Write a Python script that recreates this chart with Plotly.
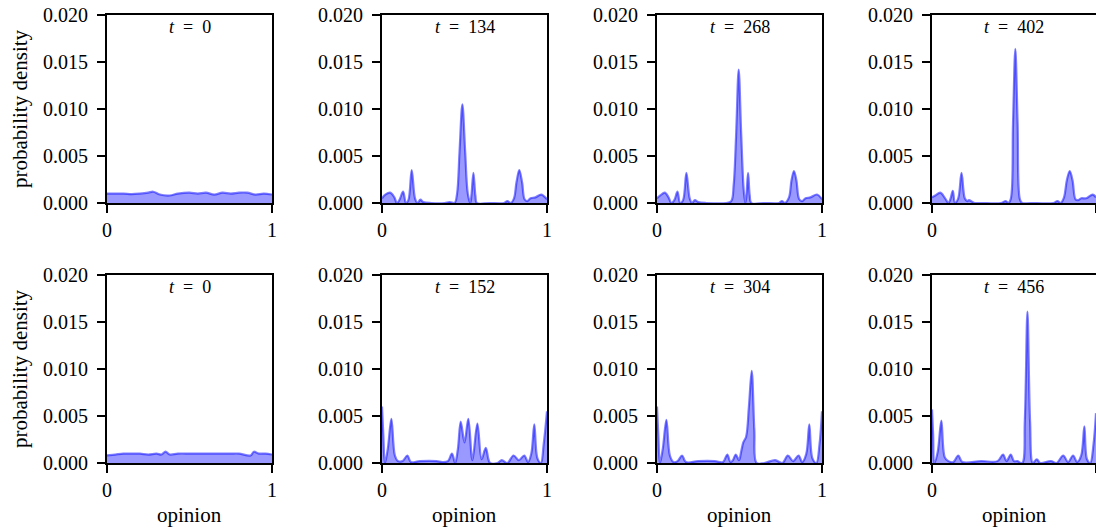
import plotly.graph_objects as go
from plotly.subplots import make_subplots

# Opinion density snapshots: two runs (rows), four time steps each (columns)
TIMES_TOP = [0, 134, 268, 402]
TIMES_BOTTOM = [0, 152, 304, 456]

Y_TICKS = [0.0, 0.005, 0.010, 0.015, 0.020]
Y_TICK_TEXT = ["0.000", "0.005", "0.010", "0.015", "0.020"]
X_TICKS = [0, 1]
X_TICK_TEXT = ["0", "1"]

# ---- run 1 ----
x_top_0 = [0, 0.05, 0.1, 0.15, 0.2, 0.25, 0.28, 0.32, 0.38, 0.43, 0.5, 0.55, 0.6,
           0.65, 0.7, 0.75, 0.8, 0.85, 0.9, 0.95, 1.0]
y_top_0 = [0.0010, 0.0010, 0.0010, 0.00095, 0.0010, 0.0011, 0.0012, 0.0009, 0.0008,
           0.0010, 0.0011, 0.0010, 0.0011, 0.0009, 0.0011, 0.0010, 0.0011, 0.0011,
           0.0009, 0.0010, 0.0009]

x_top_134 = [0, 0.02, 0.05, 0.075, 0.09, 0.105, 0.128, 0.145, 0.16, 0.18, 0.2, 0.215,
             0.233, 0.25, 0.3, 0.38, 0.41, 0.44, 0.455, 0.47, 0.487, 0.504, 0.52,
             0.535, 0.542, 0.554, 0.566, 0.575, 0.65, 0.74, 0.76, 0.78, 0.8, 0.815,
             0.832, 0.849, 0.864, 0.88, 0.9, 0.93, 0.965, 1.0]
y_top_134 = [0.0005, 0.0009, 0.0011, 0.0006, 0.0, 0.0003, 0.0012, 0.0, 0.0003, 0.0035,
             0.0005, 0.0, 0.00035, 0.0001, 0.0, 0.0, 0.0001, 0.0, 0.0010, 0.0055,
             0.0105, 0.0055, 0.0010, 0.0, 0.0008, 0.0032, 0.0008, 0.0, 0.0, 0.0,
             0.0002, 0.0, 0.0005, 0.0022, 0.0035, 0.0022, 0.0004, 0.0002, 0.0005,
             0.0006, 0.0009, 0.0004]

x_top_268 = [0, 0.02, 0.047, 0.07, 0.087, 0.105, 0.124, 0.14, 0.158, 0.178, 0.198,
             0.212, 0.23, 0.25, 0.3, 0.42, 0.45, 0.465, 0.48, 0.495, 0.51, 0.525,
             0.535, 0.542, 0.552, 0.562, 0.572, 0.65, 0.74, 0.757, 0.775, 0.8, 0.815,
             0.83, 0.845, 0.862, 0.88, 0.9, 0.93, 0.97, 1.0]
y_top_268 = [0.0005, 0.0008, 0.0011, 0.0006, 0.0, 0.0003, 0.0012, 0.0, 0.0003, 0.0032,
             0.0005, 0.0, 0.0003, 0.0001, 0.0, 0.0, 0.0002, 0.0020, 0.0075, 0.0142,
             0.0075, 0.0015, 0.0, 0.0008, 0.0032, 0.0008, 0.0, 0.0, 0.0, 0.0002,
             0.0, 0.0006, 0.0024, 0.0034, 0.0024, 0.0004, 0.0002, 0.0005, 0.0006,
             0.0009, 0.0004]

x_top_402 = [0, 0.02, 0.051, 0.08, 0.1, 0.112, 0.127, 0.14, 0.16, 0.18, 0.2, 0.215,
             0.225, 0.26, 0.3, 0.42, 0.45, 0.465, 0.48, 0.494, 0.508, 0.522, 0.536,
             0.55, 0.6, 0.74, 0.765, 0.785, 0.805, 0.822, 0.84, 0.857, 0.875, 0.89,
             0.91, 0.94, 0.98, 1.0]
y_top_402 = [0.0006, 0.0008, 0.0011, 0.0005, 0.0, 0.0004, 0.0013, 0.0, 0.0005, 0.0032,
             0.0005, 0.0002, 0.0003, 0.0, 0.0, 0.0, 0.0002, 0.0, 0.0004, 0.0085,
             0.0164, 0.0085, 0.0004, 0.0, 0.0, 0.0, 0.0002, 0.0, 0.0006, 0.0024,
             0.0034, 0.0024, 0.0004, 0.0003, 0.0005, 0.0005, 0.0009, 0.0006]

# ---- run 2 ----
x_bot_0 = [0, 0.05, 0.1, 0.15, 0.2, 0.25, 0.3, 0.33, 0.355, 0.38, 0.43, 0.5, 0.55,
           0.6, 0.65, 0.7, 0.75, 0.8, 0.87, 0.89, 0.92, 0.96, 1.0]
y_bot_0 = [0.0008, 0.0009, 0.0010, 0.0010, 0.0010, 0.0009, 0.0010, 0.0009, 0.0012,
           0.0009, 0.0010, 0.0010, 0.0010, 0.0010, 0.0010, 0.0010, 0.0010, 0.0010,
           0.0008, 0.0012, 0.0010, 0.0010, 0.0009]

x_bot_152 = [0, 0.008, 0.018, 0.035, 0.057, 0.078, 0.097, 0.125, 0.154, 0.175, 0.23,
             0.33, 0.365, 0.4, 0.424, 0.443, 0.46, 0.477, 0.5, 0.523, 0.548, 0.578,
             0.604, 0.629, 0.655, 0.7, 0.726, 0.76, 0.797, 0.83, 0.862, 0.885, 0.905,
             0.923, 0.942, 0.963, 0.98, 1.0]
y_bot_152 = [0.0060, 0.0030, 0.0, 0.0015, 0.0047, 0.0008, 0.0002, 0.0002, 0.0008,
             0.0001, 0.0002, 0.0002, 0.0001, 0.0002, 0.0010, 0.0, 0.0015, 0.0044,
             0.0022, 0.0047, 0.0003, 0.0042, 0.0004, 0.0016, 0.0, 0.0, 0.0003, 0.0,
             0.0008, 0.0003, 0.0008, 0.0001, 0.0010, 0.0041, 0.0005, 0.0, 0.0020,
             0.0055]

x_bot_304 = [0, 0.008, 0.018, 0.035, 0.057, 0.078, 0.1, 0.125, 0.152, 0.175, 0.25,
             0.35, 0.4, 0.426, 0.445, 0.46, 0.477, 0.497, 0.51, 0.523, 0.54, 0.557,
             0.574, 0.59, 0.604, 0.65, 0.716, 0.76, 0.793, 0.825, 0.858, 0.88, 0.905,
             0.923, 0.942, 0.966, 0.985, 1.0]
y_bot_304 = [0.0060, 0.0030, 0.0, 0.0015, 0.0046, 0.0008, 0.0001, 0.0002, 0.0008,
             0.0001, 0.0002, 0.0002, 0.0001, 0.0009, 0.0001, 0.0003, 0.0009, 0.0003,
             0.0012, 0.0022, 0.0028, 0.0060, 0.0098, 0.0035, 0.0, 0.0, 0.0003, 0.0,
             0.0008, 0.0002, 0.0008, 0.0001, 0.0010, 0.0041, 0.0005, 0.0, 0.0020,
             0.0055]

x_bot_456 = [0, 0.007, 0.014, 0.035, 0.057, 0.078, 0.1, 0.13, 0.16, 0.185, 0.3, 0.4,
             0.433, 0.455, 0.48, 0.5, 0.52, 0.55, 0.566, 0.582, 0.598, 0.615, 0.639,
             0.66, 0.725, 0.76, 0.8, 0.83, 0.86, 0.885, 0.91, 0.929, 0.945, 0.965,
             0.985, 1.0]
y_bot_456 = [0.0057, 0.0030, 0.0, 0.0012, 0.0045, 0.0006, 0.0002, 0.0001, 0.0008,
             0.0001, 0.0002, 0.0002, 0.0009, 0.0002, 0.0009, 0.0002, 0.0002, 0.0,
             0.0045, 0.0161, 0.0045, 0.0, 0.0004, 0.0, 0.0002, 0.0, 0.0008, 0.0001,
             0.0008, 0.0001, 0.0008, 0.0039, 0.0004, 0.0, 0.0020, 0.0053]

panels = [
    [(x_top_0, y_top_0), (x_top_134, y_top_134), (x_top_268, y_top_268), (x_top_402, y_top_402)],
    [(x_bot_0, y_bot_0), (x_bot_152, y_bot_152), (x_bot_304, y_bot_304), (x_bot_456, y_bot_456)],
]
times = [TIMES_TOP, TIMES_BOTTOM]

W, H = 1096, 529
FONT = "Liberation Serif"
TICK_FS = 20
LABEL_FS = 21
TITLE_FS = 18
LINE_W = 1.8

# panel boxes in pixels (left, right) and (top, bottom)
col_px = [(107, 272), (382, 547), (657, 822), (932, 1096)]
row_px = [(15, 203), (275, 463)]

fig = make_subplots(rows=2, cols=4)

annotations = []
for r in range(2):
    for c in range(4):
        xs, ys = panels[r][c]
        fig.add_trace(
            go.Scatter(
                x=xs, y=ys, mode="lines",
                line=dict(color="rgba(0,0,255,0.5)", width=2.2, shape="spline", smoothing=1.0),
                fill="tozeroy", fillcolor="rgba(0,0,255,0.4)",
                showlegend=False, hoverinfo="skip",
            ),
            row=r + 1, col=c + 1,
        )
        idx = r * 4 + c + 1
        xa = "xaxis" if idx == 1 else f"xaxis{idx}"
        ya = "yaxis" if idx == 1 else f"yaxis{idx}"
        l, rr = col_px[c]
        t, b = row_px[r]
        common = dict(
            showline=True, mirror=True, linecolor="black", linewidth=LINE_W,
            showgrid=False, zeroline=False, ticks="outside", ticklen=8,
            tickwidth=LINE_W, tickcolor="black", automargin=False,
            tickfont=dict(family=FONT, size=TICK_FS, color="black"),
        )
        fig.layout[xa].update(domain=[l / W, rr / W], range=[0, 1],
                              tickvals=X_TICKS, ticktext=X_TICK_TEXT,
                              ticklabelstandoff=0, **common)
        fig.layout[ya].update(domain=[1 - b / H, 1 - t / H], range=[0, 0.02],
                              tickvals=Y_TICKS, ticktext=Y_TICK_TEXT,
                              ticklabelstandoff=5, **common)

        # time stamp inside the top of each panel
        annotations.append(dict(
            text=f"<i>t</i>&nbsp; = &nbsp;{times[r][c]}", xref="paper", yref="paper",
            x=(l + rr) / 2 / W, y=1 - (t + 12) / H, xanchor="center", yanchor="middle",
            showarrow=False, font=dict(family=FONT, size=TITLE_FS, color="black"),
        ))
        if r == 1:
            annotations.append(dict(
                text="opinion", xref="paper", yref="paper",
                x=(l + rr) / 2 / W, y=1 - 515 / H, xanchor="center", yanchor="middle",
                showarrow=False, font=dict(family=FONT, size=LABEL_FS, color="black"),
            ))
        if c == 0:
            annotations.append(dict(
                text="probability density", xref="paper", yref="paper",
                x=20 / W, y=1 - (t + b) / 2 / H, xanchor="center", yanchor="middle",
                textangle=-90, showarrow=False,
                font=dict(family=FONT, size=LABEL_FS, color="black"),
            ))

fig.update_layout(
    width=W, height=H, margin=dict(l=0, r=0, t=0, b=0),
    paper_bgcolor="white", plot_bgcolor="white",
    annotations=annotations,
)

fig.write_html("out.html")
